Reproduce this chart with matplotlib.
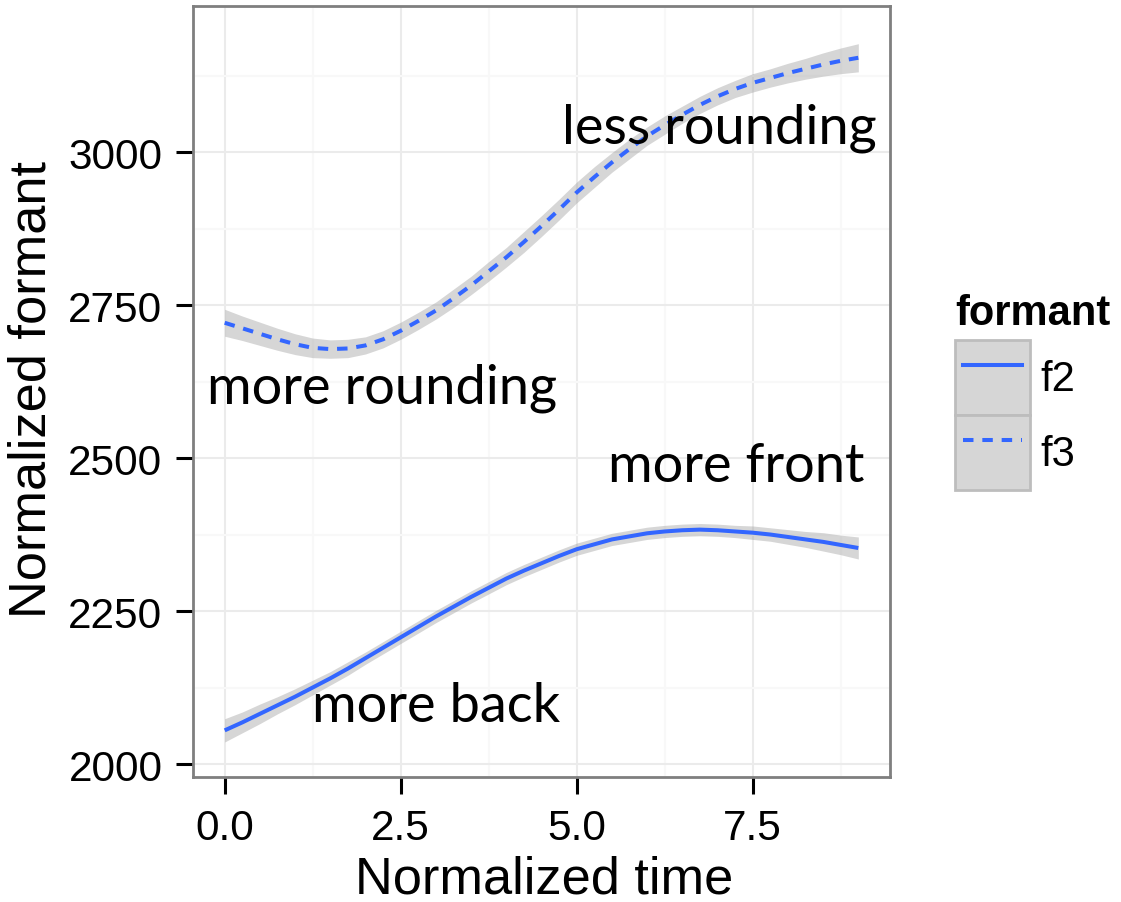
import matplotlib
matplotlib.use('Agg')
import matplotlib.pyplot as plt
import numpy as np
from matplotlib.patches import Patch
from matplotlib.lines import Line2D
from matplotlib.legend_handler import HandlerTuple, HandlerLine2D
from matplotlib.ticker import MultipleLocator

# smoothed formant trajectories (loess fit), sampled every quarter step
time = [0.0, 0.25, 0.5, 0.75, 1.0, 1.25, 1.5, 1.75, 2.0, 2.25,
        2.5, 2.75, 3.0, 3.25, 3.5, 3.75, 4.0, 4.25, 4.5, 4.75,
        5.0, 5.25, 5.5, 5.75, 6.0, 6.25, 6.5, 6.75, 7.0, 7.25,
        7.5, 7.75, 8.0, 8.25, 8.5, 8.75, 9.0]
f2 = [2055, 2068, 2082, 2096, 2110, 2125, 2140, 2156, 2173, 2190,
      2207, 2224, 2241, 2257, 2273, 2288, 2303, 2316, 2328, 2340,
      2351, 2359, 2367, 2372, 2377, 2380, 2382, 2383, 2382, 2380,
      2378, 2375, 2371, 2367, 2363, 2358, 2353]
f2_se = [19, 17, 16, 14, 13, 12, 11, 11, 10, 10,
         10, 10, 10, 10, 10, 10, 10, 10, 10, 10,
         10, 10, 10, 10, 10, 10, 10, 10, 10, 10,
         11, 11, 12, 13, 15, 16, 18]
f3 = [2721, 2712, 2703, 2694, 2686, 2680, 2678, 2679, 2684, 2694,
      2708, 2724, 2741, 2761, 2782, 2805, 2828, 2853, 2879, 2906,
      2934, 2959, 2983, 3005, 3026, 3044, 3061, 3077, 3091, 3103,
      3113, 3121, 3129, 3136, 3143, 3149, 3154]
f3_se = [22, 20, 19, 18, 17, 16, 15, 15, 14, 14,
         14, 14, 14, 15, 15, 16, 16, 17, 17, 17,
         17, 17, 16, 16, 15, 15, 14, 14, 14, 14,
         15, 15, 16, 17, 19, 21, 23]

annotations = [
    ("less rounding", 7.03, 3041),
    ("more rounding", 2.24, 2616),
    ("more front", 7.27, 2487),
    ("more back", 3.01, 2095),
]

BLUE = '#3366FF'
RIBBON = '#999999'
SANS = 'Liberation Sans'

fig = plt.figure(figsize=(11.21, 9.03), dpi=100)
ax = fig.add_axes([193 / 1121, 1 - 778 / 903, 697 / 1121, 771 / 903])

t = np.array(time)
for vals, se, dashed in [(f2, f2_se, False), (f3, f3_se, True)]:
    vals = np.array(vals)
    se = np.array(se)
    ax.fill_between(t, vals - se, vals + se, color=RIBBON, alpha=0.4, lw=0)
    line, = ax.plot(t, vals, color=BLUE, lw=2.9, solid_capstyle='butt',
                    solid_joinstyle='round')
    if dashed:
        line.set_dashes((2.6, 2.2))
        line.set_dash_capstyle('butt')

for label, x, y in annotations:
    ax.text(x, y, label, family='Lato', fontsize=39, ha='center', va='center')

# theme_bw look
ax.set_xlim(-0.45, 9.45)
ax.set_ylim(1978.8, 3238.6)
ax.xaxis.set_minor_locator(MultipleLocator(1.25))
ax.yaxis.set_major_locator(MultipleLocator(250))
ax.yaxis.set_minor_locator(MultipleLocator(125))
ax.set_xticks([0, 2.5, 5.0, 7.5])
ax.set_xticklabels(['0.0', '2.5', '5.0', '7.5'])
ax.grid(which='major', color='#ebebeb', lw=1.5)
ax.grid(which='minor', color='#f8f8f8', lw=1.5)
ax.set_axisbelow(True)
ax.tick_params(which='minor', length=0)
ax.tick_params(which='major', length=12, width=2.2, color='black', direction='out',
               labelsize=30.5, pad=10)
for lab in ax.get_xticklabels() + ax.get_yticklabels():
    lab.set_family(SANS)
for spine in ax.spines.values():
    spine.set_edgecolor('#7f7f7f')
    spine.set_linewidth(2)

fig.text(544 / 1121, 1 - 894 / 903, 'Normalized time', family=SANS,
         fontsize=37.7, ha='center', va='baseline')
fig.text(46 / 1121, 1 - 390 / 903, 'Normalized formant', family=SANS,
         fontsize=37.7, ha='center', va='baseline', rotation=90,
         rotation_mode='anchor')

# legend keys: grey ribbon box with the line drawn on top
key_fill = dict(facecolor='#d6d6d6', edgecolor='#bdbdbd', lw=2)
handles = [
    (Patch(**key_fill), Line2D([], [], color=BLUE, lw=2.9)),
    (Patch(**key_fill), Line2D([], [], color=BLUE, lw=2.9, dashes=(2.6, 2.2))),
]
leg = fig.legend(handles, ['f2', 'f3'],
                 handler_map={tuple: HandlerTuple(ndivide=1, pad=0),
                              Line2D: HandlerLine2D(marker_pad=0.19, numpoints=2)},
                 loc='upper left', bbox_to_anchor=(951 / 1121, 1 - 290 / 903),
                 borderaxespad=0, frameon=False, prop={'family': SANS, 'size': 30},
                 handlelength=1.8, handleheight=2.39, labelspacing=0,
                 handletextpad=0.24, borderpad=0.1,
                 title='formant',
                 title_fontproperties={'family': SANS, 'size': 30,
                                       'weight': 'bold'})
leg._legend_box.align = 'left'
leg._legend_box.sep = 5

fig.savefig('out.png', dpi=100)
